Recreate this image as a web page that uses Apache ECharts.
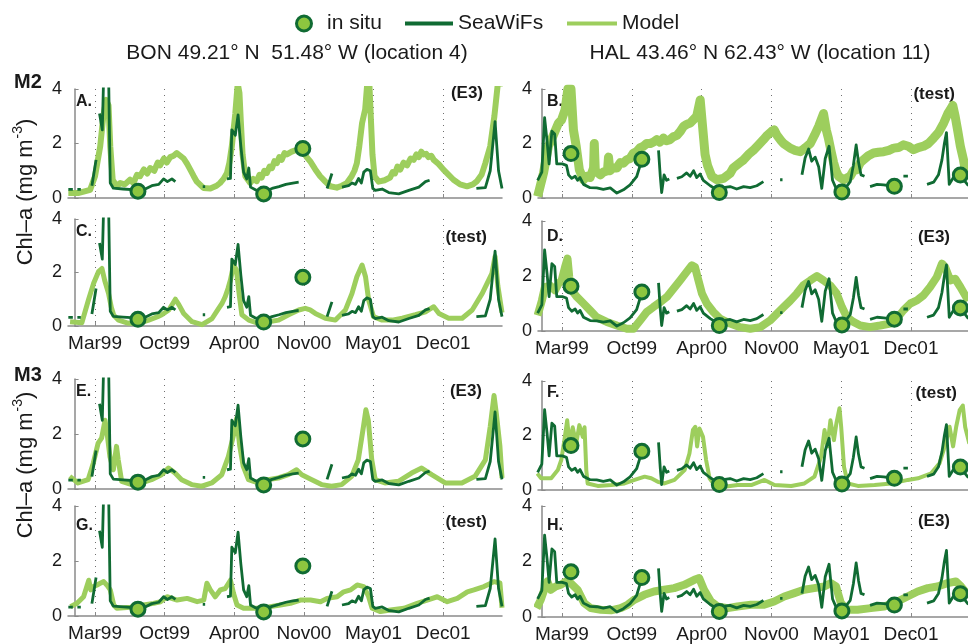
<!DOCTYPE html>
<html>
<head>
<meta charset="utf-8">
<script src="https://cdn.jsdelivr.net/npm/echarts@6/dist/echarts.min.js"></script>
<style>
  html, body { margin: 0; padding: 0; background: #ffffff; }
  #chart { width: 968px; height: 644px; }
</style>
</head>
<body>
<div id="chart"></div>
<script>
// Time axis: days since 1 Jan 1999; ticks are evenly spaced, labelled by month.
const tickDays = [59, 260, 461, 662, 863, 1064];
const tickLabels = ['Mar99', 'Oct99', 'Apr00', 'Nov00', 'May01', 'Dec01'];

// In situ Chl-a samples (mg m-3)
const insituBON = [[183, 0.25], [546, 0.15], [659, 1.82]];
const insituHAL = [[85, 1.63], [289, 1.42], [512, 0.2], [865, 0.22], [1016, 0.43], [1206, 0.84]];

// SeaWiFS Chl-a (null = no satellite coverage)
const seawifsBON = [
  [-18, 0.32], [-5, 0.32], null, [8, 0.32], [18, 0.32], null,
  [50, 0.45], [57, 1.0], [62, 1.4], null,
  [72, 3.1], [80, 2.5], [86, 5.5], [97, 5.5], [103, 0.55], [112, 0.36], [140, 0.33], [175, 0.3],
  [204, 0.33], [223, 0.45], [243, 0.5], [257, 0.7], [268, 0.6], [281, 0.7], [291, 0.6], null,
  [370, 0.42], [377, 0.42], null,
  [440, 0.7], [450, 0.72], [454, 2.5], [464, 2.3], [472, 3.05], [480, 1.9], [488, 0.95], [497, 0.7],
  [503, 1.1], [508, 0.4], [522, 0.3], [551, 0.25], [570, 0.35], [590, 0.42], [610, 0.5], [630, 0.55], [647, 0.58], null,
  [729, 0.35], [743, 0.9], null,
  [772, 0.4], [791, 0.45], [801, 0.55], [811, 0.5], [820, 0.72], [828, 0.55], [835, 0.95], [844, 1.05],
  [854, 1.0], [861, 0.35], [868, 0.28], [888, 0.33], [907, 0.2], [936, 0.15], [965, 0.28], [994, 0.4],
  [1013, 0.6], [1025, 0.65], null,
  [1160, 0.35], [1186, 0.38], [1200, 1.0], [1214, 2.8], [1224, 1.0], [1234, 0.35]
];
const seawifsHAL = [
  [-11, 0.65], [1, 0.95], [9, 2.95], [16, 2.1], [22, 1.25], [30, 2.45], [38, 2.35], [44, 1.25], [60, 1.25],
  [72, 1.2], [78, 0.85], [87, 0.72], [97, 0.8], [104, 0.65], [111, 0.75], [121, 0.5], [140, 0.38],
  [159, 0.37], [178, 0.32], [198, 0.37], [217, 0.18], [236, 0.3], [255, 0.48], [274, 0.78], [289, 1.4], null,
  [337, 1.75], [342, 0.8], [346, 0.2], [353, 0.85], [360, 0.65], [368, 0.7], null,
  [390, 0.72], [404, 0.78], [418, 0.92], [428, 0.8], [438, 1.0], [447, 0.75], [457, 0.88], [466, 0.65],
  [486, 0.45], [505, 0.3], [524, 0.38], [543, 0.42], [562, 0.33], [582, 0.42], [601, 0.38], [620, 0.45], [639, 0.6], null,
  [687, 0.67], [694, 0.67], null,
  [750, 0.85], [759, 1.47], [769, 1.8], [778, 1.35], [788, 1.5], [798, 1.15], [807, 0.35], [817, 1.45],
  [828, 1.9], [838, 0.65], [850, 0.3], [865, 0.2], [889, 0.6], [898, 1.2], [906, 1.95], [913, 1.3], [920, 0.85], [930, 0.8], null,
  [946, 0.42], [966, 0.5], [985, 0.48], [1004, 0.45], [1016, 0.43], null,
  [1042, 0.8], [1055, 0.8], null,
  [1110, 0.5], [1129, 0.58], [1143, 0.85], [1153, 1.4], [1160, 2.0], [1166, 2.4], [1174, 0.5],
  [1186, 0.75], [1196, 0.8], [1208, 0.75], [1220, 0.6], [1229, 0.45]
];

// Model Chl-a, one run per panel
const modelA = [
  [-18, 0.18], [10, 0.18], [45, 0.3], [59, 0.8], [74, 1.9], [83, 3.0], [91, 3.6], [98, 3.4], [103, 1.9],
  [110, 0.67], [122, 0.43], [132, 0.55], [145, 0.5], [160, 0.67], [170, 0.55], [180, 0.85], [189, 0.8],
  [200, 1.05], [210, 0.9], [218, 1.1], [230, 1.0], [240, 1.3], [247, 1.2], [258, 1.45], [266, 1.3],
  [276, 1.5], [286, 1.55], [295, 1.65], [305, 1.55], [315, 1.45], [325, 1.25], [334, 1.04], [344, 0.8],
  [353, 0.6], [372, 0.37], [392, 0.35], [410, 0.45], [420, 0.55], [430, 0.7], [440, 0.92], [447, 1.3],
  [454, 1.9], [459, 2.5], [464, 3.1], [471, 4.2], [476, 3.85], [480, 2.8], [485, 1.6], [493, 0.8],
  [507, 0.55], [516, 0.7], [526, 0.62], [534, 0.85], [540, 0.75], [548, 1.0], [555, 0.92], [563, 1.15],
  [570, 1.1], [577, 1.35], [584, 1.28], [591, 1.5], [598, 1.4], [606, 1.65], [613, 1.6], [627, 1.7],
  [642, 1.77], [659, 1.7], [670, 1.5], [680, 1.35], [695, 1.05], [709, 0.8], [724, 0.6],
  [738, 0.43], [757, 0.38], [772, 0.45], [786, 0.55], [800, 0.8], [808, 1.0], [815, 1.28], [822, 1.9],
  [830, 2.75], [839, 3.25], [845, 4.2], [851, 4.2], [856, 2.75], [860, 1.6], [866, 0.8], [878, 0.6],
  [895, 0.65], [911, 0.75], [918, 0.95], [925, 0.9], [932, 1.15], [940, 1.04], [950, 1.3], [960, 1.2],
  [970, 1.45], [979, 1.4], [987, 1.6], [994, 1.5], [1001, 1.7], [1008, 1.6], [1015, 1.62], [1022, 1.5],
  [1030, 1.55], [1037, 1.4], [1051, 1.25], [1065, 1.04], [1080, 0.85], [1094, 0.67], [1113, 0.5],
  [1133, 0.43], [1150, 0.5], [1162, 0.62], [1175, 0.85], [1186, 1.28], [1200, 1.9], [1212, 3.0],
  [1222, 4.2], [1236, 4.2]
];
const modelB = [
  [-11, 0.06], [6, 0.92], [20, 1.9], [34, 2.3], [49, 2.75], [58, 2.87], [68, 3.24], [76, 4.0], [85, 4.0],
  [92, 2.5], [100, 1.9], [109, 1.04], [121, 0.67], [130, 0.8], [140, 0.75], [150, 1.1], [152, 2.0],
  [155, 1.0], [159, 1.0], [170, 0.85], [178, 0.95], [190, 1.0], [193, 1.5], [197, 1.0], [205, 1.1],
  [217, 1.1], [227, 1.3], [236, 1.28], [245, 1.4], [255, 1.45], [265, 1.65], [274, 1.7], [284, 1.85],
  [294, 1.9], [303, 2.0], [313, 2.0], [322, 2.05], [332, 2.14], [341, 2.05], [351, 2.2], [360, 2.1],
  [370, 2.14], [380, 2.25], [390, 2.3], [400, 2.45], [409, 2.63], [418, 2.7], [428, 2.75], [447, 3.0],
  [457, 3.6], [464, 2.6], [471, 1.6], [478, 1.2], [490, 0.8], [505, 0.67], [524, 0.72], [543, 0.9],
  [552, 1.1], [562, 1.2], [572, 1.3], [582, 1.4], [596, 1.6], [610, 1.75], [625, 1.95], [639, 2.14],
  [650, 2.3], [663, 2.45], [670, 2.5], [678, 2.3], [690, 2.1], [697, 2.0], [716, 1.83], [730, 1.75],
  [745, 1.7], [760, 1.85], [774, 2.0], [786, 2.3], [798, 2.63], [806, 2.9], [812, 3.1], [820, 2.5],
  [826, 2.2], [834, 1.7], [841, 1.3], [848, 1.0], [855, 0.8], [870, 0.67], [889, 0.8], [898, 1.0],
  [908, 1.04], [918, 1.3], [927, 1.4], [941, 1.55], [956, 1.65], [970, 1.68], [985, 1.7], [1000, 1.75],
  [1014, 1.83], [1028, 1.85], [1042, 1.95], [1056, 1.9], [1071, 1.77], [1085, 1.85], [1100, 1.9],
  [1114, 2.0], [1129, 2.2], [1143, 2.4], [1158, 2.75], [1170, 3.1], [1177, 3.24], [1184, 3.4],
  [1191, 3.0], [1198, 2.5], [1206, 1.9], [1215, 1.4], [1222, 0.9], [1229, 0.75]
];
const modelC = [
  [-13, 0.16], [21, 0.12], [40, 0.97], [55, 1.6], [69, 2.03], [79, 2.15], [87, 1.7], [98, 1.22],
  [106, 0.7], [113, 0.4], [127, 0.22], [156, 0.1], [185, 0.1], [214, 0.22], [240, 0.35], [252, 0.42],
  [272, 0.6], [284, 0.85], [291, 1.0], [301, 0.8], [315, 0.47], [339, 0.16], [368, 0.05], [397, 0.28],
  [416, 0.66], [426, 0.85], [435, 1.1], [443, 1.4], [450, 1.72], [459, 2.28], [467, 2.1], [476, 1.1],
  [483, 0.42], [503, 0.22], [531, 0.1], [560, 0.16], [589, 0.22], [618, 0.42], [647, 0.6], [666, 0.66],
  [680, 0.6], [695, 0.47], [724, 0.29], [753, 0.22], [782, 0.6], [801, 1.22], [815, 1.84], [830, 2.28],
  [840, 1.84], [849, 0.97], [863, 0.35], [888, 0.22], [917, 0.22], [946, 0.29], [984, 0.42],
  [1013, 0.53], [1037, 0.72], [1052, 0.47], [1080, 0.29], [1119, 0.29], [1148, 0.6], [1177, 1.22],
  [1205, 1.97], [1214, 2.6], [1222, 1.5], [1234, 0.5]
];
const modelD = [
  [-11, 0.57], [1, 1.1], [10, 1.6], [25, 1.65], [39, 1.48], [49, 1.72], [58, 1.84], [68, 2.33],
  [75, 2.63], [80, 1.96], [87, 1.48], [102, 1.24], [121, 1.0], [140, 0.75], [159, 0.5], [188, 0.33],
  [217, 0.2], [246, 0.08], [265, 0.08], [284, 0.38], [303, 0.69], [322, 0.87], [342, 1.05], [361, 1.24],
  [380, 1.54], [399, 1.84], [418, 2.15], [433, 2.39], [442, 2.33], [452, 1.84], [462, 1.36], [476, 1.0],
  [495, 0.69], [514, 0.45], [543, 0.27], [572, 0.14], [601, 0.08], [630, 0.14], [658, 0.38], [678, 0.63],
  [697, 0.87], [716, 1.1], [735, 1.36], [754, 1.66], [774, 1.84], [793, 2.0], [812, 1.84], [831, 1.66],
  [850, 1.36], [865, 0.87], [879, 0.51], [898, 0.33], [918, 0.2], [946, 0.14], [975, 0.2], [1004, 0.27],
  [1023, 0.45], [1042, 0.75], [1062, 1.0], [1081, 1.11], [1100, 1.3], [1119, 1.6], [1138, 1.96],
  [1153, 2.45], [1162, 2.33], [1177, 1.84], [1191, 1.9], [1206, 1.6], [1229, 1.1]
];
const modelE = [
  [-14, 0.46], [10, 0.22], [39, 0.34], [54, 0.94], [68, 1.67], [78, 1.85], [88, 2.5], [95, 1.91],
  [102, 1.18], [112, 0.7], [121, 1.55], [126, 1.06], [136, 0.28], [165, 0.16], [193, 0.22], [222, 0.34],
  [251, 0.52], [271, 0.76], [290, 0.58], [309, 0.34], [338, 0.16], [367, 0.1], [396, 0.22], [425, 0.52],
  [444, 1.18], [458, 1.91], [468, 2.57], [477, 1.55], [487, 0.82], [502, 0.34], [530, 0.22], [559, 0.34],
  [588, 0.4], [617, 0.52], [641, 0.7], [656, 0.52], [685, 0.34], [713, 0.16], [742, 0.1], [771, 0.16],
  [800, 0.46], [819, 1.06], [834, 2.27], [841, 2.88], [848, 2.5], [858, 1.06], [868, 0.34], [896, 0.22],
  [935, 0.28], [973, 0.58], [1002, 0.76], [1031, 0.52], [1070, 0.22], [1118, 0.22], [1156, 0.46],
  [1186, 1.06], [1200, 2.27], [1211, 3.4], [1218, 2.7], [1228, 1.55], [1234, 0.4]
];
const modelF = [
  [-12, 0.61], [-1, 0.43], [28, 0.43], [47, 0.73], [57, 1.1], [66, 1.83], [74, 2.56], [81, 1.7],
  [90, 2.3], [100, 1.7], [109, 2.38], [119, 1.95], [124, 2.3], [129, 0.73], [133, 0.24], [162, 0.15],
  [201, 0.18], [239, 0.24], [268, 0.37], [297, 0.49], [316, 0.43], [335, 0.3], [354, 0.24], [383, 0.37],
  [412, 0.73], [426, 1.34], [436, 2.2], [443, 2.32], [448, 1.6], [455, 2.26], [465, 1.95], [474, 1.1],
  [484, 0.43], [498, 0.18], [527, 0.12], [565, 0.18], [604, 0.18], [642, 0.37], [671, 0.18], [719, 0.15],
  [757, 0.24], [786, 0.49], [805, 1.22], [815, 2.2], [823, 1.6], [832, 2.56], [842, 1.83], [849, 2.44],
  [858, 3.0], [863, 2.3], [871, 0.85], [882, 0.24], [911, 0.15], [959, 0.18], [1007, 0.24], [1055, 0.37],
  [1084, 0.43], [1122, 0.61], [1146, 0.98], [1161, 1.6], [1175, 2.32], [1185, 1.6], [1194, 2.32],
  [1204, 2.93], [1213, 3.1], [1220, 2.3], [1232, 1.7]
];
const modelG = [
  [-12, 0.34], [7, 0.46], [26, 0.7], [41, 1.3], [47, 0.95], [55, 1.07], [65, 1.13], [74, 1.19],
  [84, 1.25], [93, 1.13], [103, 0.95], [113, 0.4], [122, 0.28], [161, 0.32], [199, 0.4], [228, 0.46],
  [248, 0.52], [267, 0.7], [296, 0.58], [325, 0.64], [354, 0.52], [373, 0.58], [382, 1.19], [392, 0.95],
  [406, 0.7], [421, 0.95], [435, 1.0], [450, 1.3], [459, 0.82], [469, 0.4], [488, 0.28], [517, 0.28],
  [546, 0.28], [565, 0.34], [594, 0.4], [623, 0.46], [652, 0.58], [681, 0.58], [710, 0.52], [729, 0.64],
  [758, 0.7], [777, 0.88], [797, 0.95], [816, 1.13], [835, 1.07], [849, 0.7], [859, 0.28], [883, 0.16],
  [912, 0.22], [951, 0.28], [989, 0.46], [1018, 0.58], [1047, 0.7], [1076, 0.52], [1105, 0.64],
  [1134, 0.88], [1153, 0.95], [1182, 1.07], [1211, 1.25], [1228, 1.2], [1234, 0.3]
];
const modelH = [
  [-14, 0.32], [-2, 0.62], [8, 0.98], [17, 1.28], [27, 0.98], [41, 1.1], [56, 1.16], [70, 1.28],
  [84, 1.22], [104, 0.98], [123, 0.5], [142, 0.32], [171, 0.26], [200, 0.24], [228, 0.32], [248, 0.44],
  [267, 0.62], [296, 0.8], [324, 0.92], [353, 0.98], [382, 1.04], [411, 1.16], [440, 1.34], [454, 1.4],
  [468, 0.98], [488, 0.56], [507, 0.38], [536, 0.32], [564, 0.38], [603, 0.44], [641, 0.44], [670, 0.56],
  [699, 0.74], [728, 0.86], [756, 0.98], [785, 1.04], [814, 1.1], [833, 1.22], [848, 1.1], [862, 0.5],
  [881, 0.26], [910, 0.26], [948, 0.32], [987, 0.38], [1025, 0.56], [1054, 0.74], [1083, 0.92],
  [1112, 1.04], [1140, 1.1], [1169, 1.22], [1193, 1.28], [1208, 1.1], [1231, 0.74]
];

const FONT = '"Liberation Sans", Arial, Helvetica, sans-serif';
const DARK = '#106b33';
const LIGHT = '#9dce5d';
const DOT_FILL = '#8dc63f';
const AXIS = '#8a8a8a';
const INK = '#1a1a1a';

// Panel layout: two stations (columns), two model setups x two runs (rows)
const panels = [
  { key: 'A', col: 0, top: 89,  height: 109, labels: false, model: modelA, lw: 6, tag: '(E3)',   letterY: 102, tagY: 93,  tagX: 483 },
  { key: 'B', col: 1, top: 89,  height: 109, labels: false, model: modelB, lw: 9, tag: '(test)', letterY: 102, tagY: 94,  tagX: 955 },
  { key: 'C', col: 0, top: 219, height: 107, labels: true,  model: modelC, lw: 5, tag: '(test)', letterY: 232, tagY: 237, tagX: 487 },
  { key: 'D', col: 1, top: 221, height: 110, labels: true,  model: modelD, lw: 8, tag: '(E3)',   letterY: 237, tagY: 237, tagX: 950 },
  { key: 'E', col: 0, top: 379, height: 110, labels: false, model: modelE, lw: 5, tag: '(E3)',   letterY: 392, tagY: 391, tagX: 482 },
  { key: 'F', col: 1, top: 381, height: 109, labels: false, model: modelF, lw: 4, tag: '(test)', letterY: 393, tagY: 393, tagX: 957 },
  { key: 'G', col: 0, top: 506, height: 110, labels: true,  model: modelG, lw: 5, tag: '(test)', letterY: 526, tagY: 522, tagX: 487 },
  { key: 'H', col: 1, top: 506, height: 111, labels: true,  model: modelH, lw: 8, tag: '(E3)',   letterY: 526, tagY: 521, tagX: 950 }
];
const columns = [
  { left: 68,  width: 434, min: -19, max: 1234, seawifs: seawifsBON, insitu: insituBON },
  { left: 538, width: 430, min: -10, max: 1228, seawifs: seawifsHAL, insitu: insituHAL }
];

const withGaps = arr => arr.map(p => (p === null ? ['-', '-'] : p));

const grid = [], xAxis = [], yAxis = [], series = [], graphic = [];

panels.forEach((p, i) => {
  const c = columns[p.col];
  grid.push({ left: c.left, top: p.top, width: c.width, height: p.height, containLabel: false });
  xAxis.push({
    type: 'value', gridIndex: i, min: c.min, max: c.max,
    axisLine: { show: true, onZero: false, lineStyle: { color: AXIS, width: 1.5 } },
    axisTick: { show: true, inside: true, length: 4, customValues: tickDays, lineStyle: { color: AXIS, width: 1 } },
    axisLabel: {
      show: p.labels, customValues: tickDays, margin: 8,
      fontFamily: FONT, fontSize: 19, color: INK,
      formatter: v => tickLabels[tickDays.indexOf(v)] || ''
    },
    splitLine: { show: true, lineStyle: { color: '#6f6f6f', width: 1, type: [1, 5] } }
  });
  yAxis.push({
    type: 'value', gridIndex: i, min: 0, max: 4, interval: 2,
    axisLine: { show: true, lineStyle: { color: AXIS, width: 1.5 } },
    axisTick: { show: true, inside: true, length: 4, lineStyle: { color: AXIS } },
    axisLabel: { fontFamily: FONT, fontSize: 18, color: INK, margin: 6 },
    splitLine: { show: false }
  });
  series.push({
    name: 'Model', type: 'line', xAxisIndex: i, yAxisIndex: i,
    data: p.model, showSymbol: false, symbol: 'none',
    lineStyle: { color: LIGHT, width: p.lw, join: 'round' }, itemStyle: { color: LIGHT },
    z: 2, animation: false, silent: true
  });
  series.push({
    name: 'SeaWiFs', type: 'line', xAxisIndex: i, yAxisIndex: i,
    data: withGaps(c.seawifs), showSymbol: false, symbol: 'none', connectNulls: false,
    lineStyle: { color: DARK, width: 2.8, join: 'round' }, itemStyle: { color: DARK },
    z: 3, animation: false, silent: true
  });
  series.push({
    name: 'in situ', type: 'scatter', xAxisIndex: i, yAxisIndex: i,
    data: c.insitu, symbol: 'circle', symbolSize: 14,
    itemStyle: { color: DOT_FILL, borderColor: DARK, borderWidth: 3, opacity: 1 },
    z: 4, animation: false, silent: true, clip: false
  });

  const letterX = p.col === 0 ? 76 : 547;
  graphic.push({
    type: 'text', x: letterX, y: p.letterY, silent: true,
    style: { text: p.key + '.', font: 'bold 16px ' + FONT, fill: INK, textAlign: 'left', textVerticalAlign: 'middle' }
  });
  graphic.push({
    type: 'text', x: p.tagX, y: p.tagY, silent: true,
    style: { text: p.tag, font: 'bold 17px ' + FONT, fill: INK, textAlign: 'right', textVerticalAlign: 'middle' }
  });
});

// Station headers, model-group labels and shared y-axis titles
[
  { x: 297, y: 53, text: 'BON 49.21° N  51.48° W (location 4)' },
  { x: 760, y: 53, text: 'HAL 43.46° N 62.43° W (location 11)' }
].forEach(t => graphic.push({
  type: 'text', x: t.x, y: t.y, silent: true,
  style: { text: t.text, font: '21px ' + FONT, fill: INK, textAlign: 'center', textVerticalAlign: 'middle' }
}));
[{ y: 82, text: 'M2' }, { y: 375, text: 'M3' }].forEach(t => graphic.push({
  type: 'text', x: 14, y: t.y, silent: true,
  style: { text: t.text, font: 'bold 20px ' + FONT, fill: INK, textAlign: 'left', textVerticalAlign: 'middle' }
}));
[192, 465].forEach(cy => graphic.push({
  type: 'text', x: 24, y: cy, rotation: Math.PI / 2, silent: true,
  style: {
    text: '{a|Chl–a (mg m}{s|-3}{a|)}',
    textAlign: 'center', textVerticalAlign: 'middle',
    rich: {
      a: { fontFamily: FONT, fontSize: 22, fill: INK, lineHeight: 26, verticalAlign: 'bottom' },
      s: { fontFamily: FONT, fontSize: 14, fill: INK, lineHeight: 26, verticalAlign: 'top', padding: [0, 0, 0, 1] }
    }
  }
}));

const legendText = { fontFamily: FONT, fontSize: 21, color: INK };
const legend = [
  {
    data: [{ name: 'in situ', icon: 'circle' }], left: 290, top: 8, itemWidth: 36, itemHeight: 15,
    selectedMode: false, textStyle: legendText,
    itemStyle: { color: DOT_FILL, borderColor: DARK, borderWidth: 3 }
  },
  {
    data: [{ name: 'SeaWiFs', icon: 'rect' }], left: 400, top: 8, itemWidth: 48, itemHeight: 4,
    selectedMode: false, textStyle: legendText,
    itemStyle: { color: DARK, borderWidth: 0 }
  },
  {
    data: [{ name: 'Model', icon: 'rect' }], left: 562, top: 8, itemWidth: 50, itemHeight: 4,
    selectedMode: false, textStyle: legendText,
    itemStyle: { color: LIGHT, borderWidth: 0 }
  }
];

const chart = echarts.init(document.getElementById('chart'), null, { renderer: 'canvas' });
chart.setOption({
  backgroundColor: '#ffffff',
  animation: false,
  textStyle: { fontFamily: FONT },
  legend, grid, xAxis, yAxis, series, graphic
});
</script>
</body>
</html>
